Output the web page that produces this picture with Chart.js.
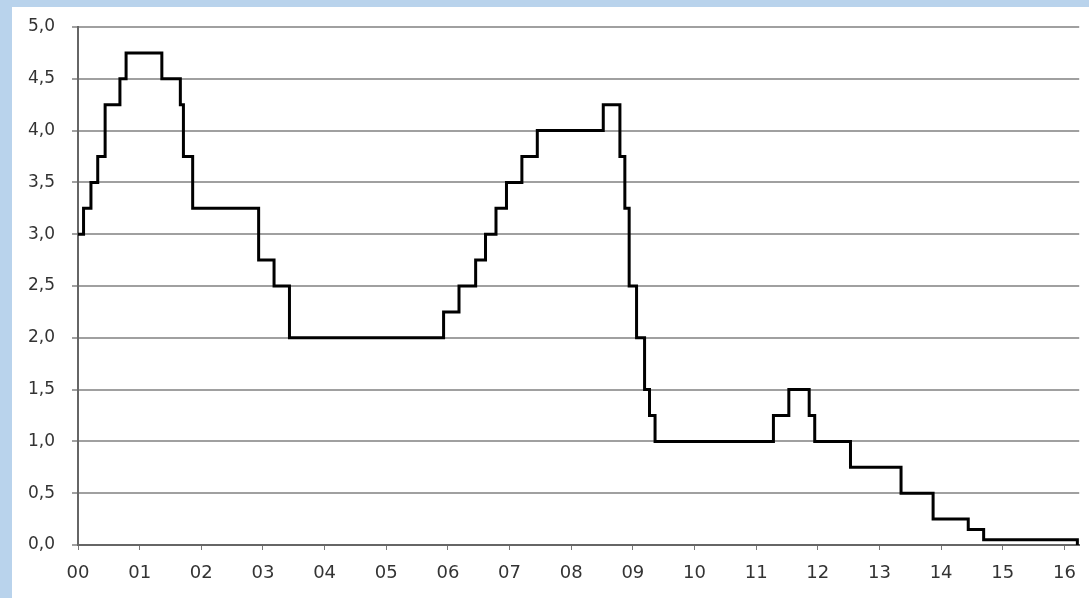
<!DOCTYPE html>
<html>
<head>
<meta charset="utf-8">
<script src="https://cdn.jsdelivr.net/npm/chart.js@4/dist/chart.umd.min.js"></script>
<style>
    body { margin: 0; background: #b9d3ec; width: 1089px; height: 598px; overflow: hidden; }
    #wrap { position: absolute; left: 12px; top: 7px; width: 1077px; height: 591px; background: #fff; }
</style>
</head>
<body>
<div id="wrap"><canvas id="rateChart" width="1077" height="591"></canvas></div>
<script>
// change dates as decimal years since 2000, and the new rate from that date (%)
const rateDates = [0, 0.09, 0.21, 0.32, 0.44, 0.68, 0.78, 1.36, 1.66, 1.71, 1.86, 2.93, 3.18, 3.43,
    5.93, 6.18, 6.45, 6.61, 6.78, 6.95, 7.20, 7.45, 8.52, 8.79, 8.87, 8.94, 9.06, 9.19, 9.27, 9.36,
    11.28, 11.53, 11.86, 11.95, 12.53, 13.35, 13.87, 14.44, 14.69, 16.21];
const rateValues = [3.00, 3.25, 3.50, 3.75, 4.25, 4.50, 4.75, 4.50, 4.25, 3.75, 3.25, 2.75, 2.50, 2.00,
    2.25, 2.50, 2.75, 3.00, 3.25, 3.50, 3.75, 4.00, 4.25, 3.75, 3.25, 2.50, 2.00, 1.50, 1.25, 1.00,
    1.25, 1.50, 1.25, 1.00, 0.75, 0.50, 0.25, 0.15, 0.05, 0.00];
const yearLabels = ['00', '01', '02', '03', '04', '05', '06', '07', '08', '09', '10', '11', '12', '13', '14', '15', '16'];
const yTickLabels = ['0,0', '0,5', '1,0', '1,5', '2,0', '2,5', '3,0', '3,5', '4,0', '4,5', '5,0'];

const points = rateDates.map((d, i) => ({ x: d, y: rateValues[i] }));

new Chart(document.getElementById('rateChart'), {
    type: 'line',
    data: {
        datasets: [{
            data: points,
            stepped: true,
            borderColor: '#000',
            borderWidth: 3,
            pointRadius: 0,
            fill: false,
            clip: false
        }]
    },
    options: {
        responsive: false,
        animation: false,
        devicePixelRatio: 1,
        layout: { padding: { top: 20, right: 9, left: 0, bottom: 0 } },
        plugins: { legend: { display: false }, tooltip: { enabled: false } },
        scales: {
            x: {
                type: 'linear',
                min: 0,
                max: 16.24,
                afterFit: scale => { scale.height = 53; },
                border: { color: '#666', width: 2 },
                grid: { drawOnChartArea: false, tickLength: 5, color: '#777' },
                ticks: {
                    stepSize: 1,
                    includeBounds: false,
                    autoSkip: false,
                    maxRotation: 0,
                    padding: 13,
                    color: '#333',
                    font: { family: 'DejaVu Sans', size: 18 },
                    callback: v => yearLabels[v] ?? ''
                }
            },
            y: {
                min: 0,
                max: 5,
                afterFit: scale => {
                    scale.width = 66;
                    scale.paddingTop = 0;
                    scale.paddingBottom = 0;
                },
                border: { color: '#666', width: 2 },
                grid: { color: '#a0a0a0', lineWidth: 2, tickLength: 6 },
                ticks: {
                    stepSize: 0.5,
                    padding: 17,
                    color: '#333',
                    font: { family: 'DejaVu Sans', size: 17 },
                    callback: (v, i) => yTickLabels[i]
                }
            }
        }
    }
});
</script>
</body>
</html>
